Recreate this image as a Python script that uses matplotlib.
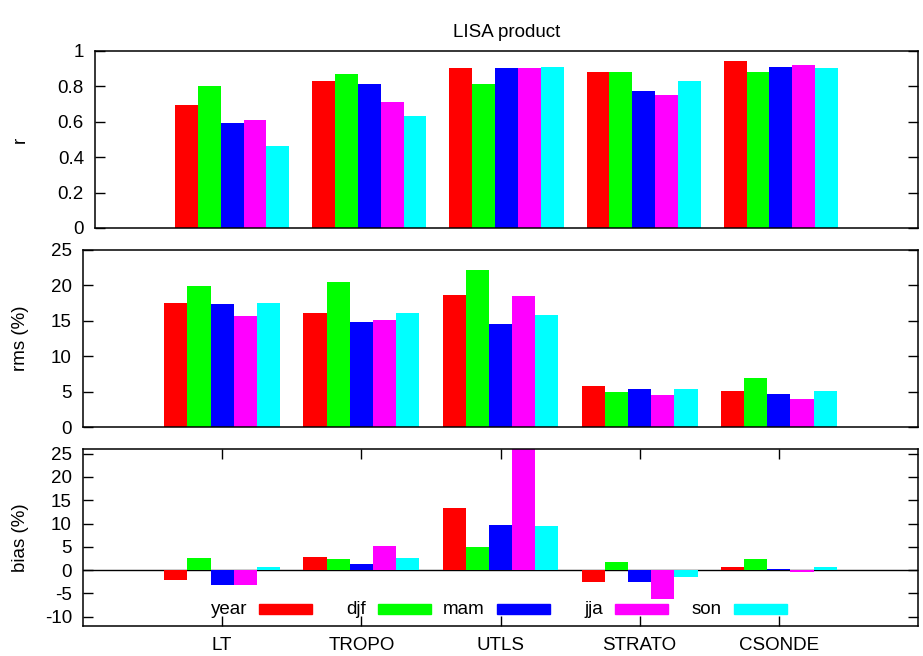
import numpy as np
import matplotlib
matplotlib.use('Agg')
import matplotlib.pyplot as plt
from matplotlib.patches import Rectangle

plt.rcParams['font.family'] = ['Liberation Sans', 'DejaVu Sans']
plt.rcParams['font.size'] = 13.5
plt.rcParams['axes.unicode_minus'] = False

# categories and seasons
regions = ['LT', 'TROPO', 'UTLS', 'STRATO', 'CSONDE']
seasons = ['year', 'djf', 'mam', 'jja', 'son']
colors = ['#ff0000', '#00ff00', '#0000ff', '#ff00ff', '#00ffff']

# correlation r (one list per season, values per region)
r_year = [0.695, 0.832, 0.904, 0.881, 0.944]
r_djf  = [0.802, 0.870, 0.814, 0.881, 0.881]
r_mam  = [0.593, 0.814, 0.904, 0.774, 0.911]
r_jja  = [0.610, 0.712, 0.904, 0.751, 0.921]
r_son  = [0.463, 0.633, 0.911, 0.832, 0.904]

# rms (%)
rms_year = [17.5, 16.1, 18.6, 5.76, 5.1]
rms_djf  = [19.95, 20.47, 22.16, 4.95, 6.89]
rms_mam  = [17.36, 14.85, 14.53, 5.33, 4.62]
rms_jja  = [15.66, 15.09, 18.49, 4.53, 3.92]
rms_son  = [17.5, 16.08, 15.8, 5.33, 5.05]

# bias (%)
bias_year = [-2.14, 2.79, 13.29, -2.57, 0.64]
bias_djf  = [2.57, 2.36, 4.93, 1.71, 2.43]
bias_mam  = [-3.29, 1.29, 9.64, -2.57, 0.2]
bias_jja  = [-3.21, 5.21, 26.5, -6.21, -0.36]
bias_son  = [0.64, 2.57, 9.43, -1.5, 0.64]

r_data = [r_year, r_djf, r_mam, r_jja, r_son]
rms_data = [rms_year, rms_djf, rms_mam, rms_jja, rms_son]
bias_data = [bias_year, bias_djf, bias_mam, bias_jja, bias_son]

W, H = 923, 656
fig = plt.figure(figsize=(W / 100, H / 100), dpi=100)


def px_axes(l, t, r, b):
    return fig.add_axes([l / W, 1 - b / H, (r - l) / W, (b - t) / H])


ax1 = px_axes(95, 51, 918, 228)
ax2 = px_axes(83, 250, 918, 427)
ax3 = px_axes(83, 449, 918, 626)

x = np.arange(len(regions))
bw = 1.0 / 6


def draw(ax, data):
    for i, vals in enumerate(data):
        ax.bar(x + (i - 2) * bw, vals, width=bw, color=colors[i],
               edgecolor='none', label=seasons[i], zorder=2)
    ax.set_xlim(-1, 5)
    ax.tick_params(direction='in', length=7, width=1, right=True,
                   pad=8, labelsize=13.5)
    for s in ax.spines.values():
        s.set_linewidth(1.1)


draw(ax1, r_data)
ax1.set_ylim(0, 1)
ax1.set_yticks([0, 0.2, 0.4, 0.6, 0.8, 1])
ax1.set_yticklabels(['0', '0.2', '0.4', '0.6', '0.8', '1'])
ax1.set_xticks([])
ax1.set_ylabel('r')
ax1.yaxis.set_label_coords((29 - 95) / 823, 0.5)
ax1.set_title('LISA product', fontsize=13.5, pad=10)

draw(ax2, rms_data)
ax2.set_ylim(0, 25)
ax2.set_yticks(range(0, 26, 5))
ax2.set_xticks([])
ax2.set_ylabel('rms (%)')
ax2.yaxis.set_label_coords((29 - 83) / 835, 0.5)

draw(ax3, bias_data)
ax3.set_ylim(-12, 26)
ax3.set_yticks(range(-10, 26, 5))
ax3.set_xticks(x)
ax3.set_xticklabels(regions)
ax3.tick_params(axis='x', top=True, pad=8)
ax3.axhline(0, color='black', lw=1, zorder=1)
ax3.set_ylabel('bias (%)')
ax3.yaxis.set_label_coords((29 - 83) / 835, 0.5)

# gnuplot-style key: right-aligned text followed by a colour sample
ax_w = 835.0
for i, name in enumerate(seasons):
    tx = (247 + i * 118.75 - 83) / ax_w
    sx = tx + 12 / ax_w
    ax3.text(tx, (626 - 609) / 177, name, transform=ax3.transAxes,
             ha='right', va='center', fontsize=13.5)
    ax3.add_patch(Rectangle((sx, (626 - 613.5) / 177), 53 / ax_w, 10 / 177,
                            transform=ax3.transAxes, color=colors[i],
                            zorder=3))

fig.savefig('out.png', dpi=100)
